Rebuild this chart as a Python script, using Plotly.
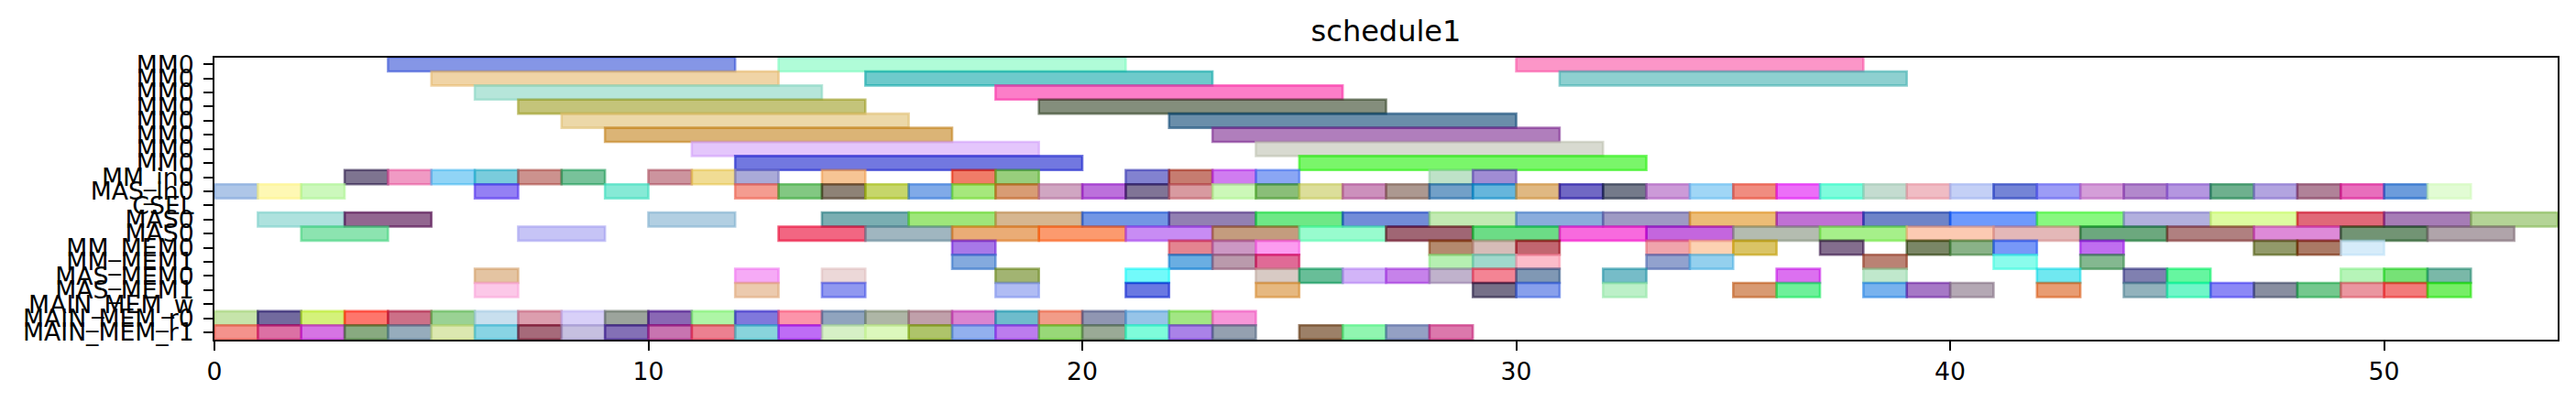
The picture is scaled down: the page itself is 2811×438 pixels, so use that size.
import plotly.graph_objects as go

# ---------------- data ----------------
ROW_LABELS = ["MM0", "MM0", "MM0", "MM0", "MM0", "MM0", "MM0", "MM0",
              "MM_in0", "MAS_in0", "CSEL", "MAS0", "MAS0", "MM_MEM0", "MM_MEM1",
              "MAS_MEM0", "MAS_MEM1", "MAIN_MEM_w", "MAIN_MEM_r0", "MAIN_MEM_r1"]

X_TICKS = [0, 10, 20, 30, 40, 50]

MM0_1_START = [4, 13, 30]
MM0_1_END = [12, 21, 38]
MM0_2_START = [5, 15, 31]
MM0_2_END = [13, 23, 39]
MM0_3_START = [6, 18]
MM0_3_END = [14, 26]
MM0_4_START = [7, 19]
MM0_4_END = [15, 27]
MM0_5_START = [8, 22]
MM0_5_END = [16, 30]
MM0_6_START = [9, 23]
MM0_6_END = [17, 31]
MM0_7_START = [11, 24]
MM0_7_END = [19, 32]
MM0_8_START = [12, 25]
MM0_8_END = [20, 33]

MM_IN0_START = [3, 4, 5, 6, 7, 8, 10, 11, 12, 14, 17, 18, 21, 22, 23, 24, 28, 29]
MM_IN0_END = [4, 5, 6, 7, 8, 9, 11, 12, 13, 15, 18, 19, 22, 23, 24, 25, 29, 30]

MAS_IN0_START = [0, 1, 2, 6, 9, 12, 13, 14, 15, 16, 17, 18, 19, 20, 21, 22, 23, 24, 25,
                 26, 27, 28, 29, 30, 31, 32, 33, 34, 35, 36, 37, 38, 39, 40, 41, 42, 43,
                 44, 45, 46, 47, 48, 49, 50, 51]
MAS_IN0_END = [1, 2, 3, 7, 10, 13, 14, 15, 16, 17, 18, 19, 20, 21, 22, 23, 24, 25, 26,
               27, 28, 29, 30, 31, 32, 33, 34, 35, 36, 37, 38, 39, 40, 41, 42, 43, 44,
               45, 46, 47, 48, 49, 50, 51, 52]

CSEL_START = []
CSEL_END = []

MAS0_1_START = [1, 3, 10, 14, 16, 18, 20, 22, 24, 26, 28, 30, 32, 34, 36, 38, 40, 42,
                44, 46, 48, 50, 52]
MAS0_1_END = [3, 5, 12, 16, 18, 20, 22, 24, 26, 28, 30, 32, 34, 36, 38, 40, 42, 44,
              46, 48, 50, 52, 54]

MAS0_2_START = [2, 7, 13, 15, 17, 19, 21, 23, 25, 27, 29, 31, 33, 35, 37, 39, 41, 43,
                45, 47, 49, 51]
MAS0_2_END = [4, 9, 15, 17, 19, 21, 23, 25, 27, 29, 31, 33, 35, 37, 39, 41, 43, 45,
              47, 49, 51, 53]

MM_MEM0_START = [17, 22, 23, 24, 28, 29, 30, 33, 34, 35, 37, 39, 40, 41, 43, 47, 48, 49]
MM_MEM0_END = [18, 23, 24, 25, 29, 30, 31, 34, 35, 36, 38, 40, 41, 42, 44, 48, 49, 50]

MM_MEM1_START = [17, 22, 23, 24, 28, 29, 30, 33, 34, 38, 41, 43]
MM_MEM1_END = [18, 23, 24, 25, 29, 30, 31, 34, 35, 39, 42, 44]

MAS_MEM0_START = [6, 12, 14, 18, 21, 24, 25, 26, 27, 28, 29, 30, 32, 36, 38, 42, 44, 45,
                  49, 50, 51]
MAS_MEM0_END = [7, 13, 15, 19, 22, 25, 26, 27, 28, 29, 30, 31, 33, 37, 39, 43, 45, 46,
                50, 51, 52]

MAS_MEM1_START = [6, 12, 14, 18, 21, 24, 29, 30, 32, 35, 36, 38, 39, 40, 42, 44, 45, 46,
                  47, 48, 49, 50, 51]
MAS_MEM1_END = [7, 13, 15, 19, 22, 25, 30, 31, 33, 36, 37, 39, 40, 41, 43, 45, 46, 47,
                48, 49, 50, 51, 52]

MAIN_MEM_W_START = []
MAIN_MEM_W_END = []

MAIN_MEM_R0_START = [0, 1, 2, 3, 4, 5, 6, 7, 8, 9, 10, 11, 12, 13, 14, 15, 16, 17, 18,
                     19, 20, 21, 22, 23]
MAIN_MEM_R0_END = [1, 2, 3, 4, 5, 6, 7, 8, 9, 10, 11, 12, 13, 14, 15, 16, 17, 18, 19,
                   20, 21, 22, 23, 24]

MAIN_MEM_R1_START = [0, 1, 2, 3, 4, 5, 6, 7, 8, 9, 10, 11, 12, 13, 14, 15, 16, 17, 18,
                     19, 20, 21, 22, 23, 25, 26, 27, 28]
MAIN_MEM_R1_END = [1, 2, 3, 4, 5, 6, 7, 8, 9, 10, 11, 12, 13, 14, 15, 16, 17, 18, 19,
                   20, 21, 22, 23, 24, 26, 27, 28, 29]

# ---------------- styles (apparent colours on white) ----------------
MM0_1_COL = ["#8596e6", "#b0fcd8", "#fc96c8"]
MM0_2_COL = ["#f0d4a6", "#6ecacb", "#8ed0d0"]
MM0_3_COL = ["#b6e6da", "#fc7ec8"]
MM0_4_COL = ["#c4c47a", "#848e7c"]
MM0_5_COL = ["#ecd8a8", "#6a8eaa"]
MM0_6_COL = ["#dbb476", "#b07ebc"]
MM0_7_COL = ["#e4c6fc", "#d8dad0"]
MM0_8_COL = ["#7278e0", "#7af66a"]
MM_IN0_COL = ["#7e7490", "#f09ac4", "#90d4f6", "#7accdc", "#cc928e", "#78c29a",
              "#cc949e", "#f0dc94", "#aaaad8", "#f6c494", "#f07c68", "#98ce7c",
              "#8282d0", "#c67c70", "#d07cf0", "#8aa6f4", "#bee2c8", "#a08cd4"]
MAS_IN0_COL = ["#aec6e8", "#fef8b4", "#ccf8bc", "#9480f4", "#86ead6",
               "#f49c90", "#82c882", "#8e8276", "#c6d66a", "#80aae8", "#a6e87c",
               "#d89c74", "#d0a6c2", "#bc70dc", "#807496", "#d89aa0", "#ccf8b8",
               "#8abe78", "#dcde9a", "#cc90bc", "#ac9890", "#72a0c8", "#66b6dc",
               "#e0b882", "#7068c4", "#747a8a", "#cc9ad8", "#a0d6f6", "#f08c80",
               "#ec6ef8", "#7efcdc", "#c4dcd0", "#f0bcc4", "#c4d0f6", "#7484d6",
               "#9c9cf6", "#d49ed8", "#b288cc", "#b496e0", "#6eb08e", "#b2a4e0",
               "#b08298", "#e86ebc", "#6c9cdc", "#e2fcd4"]
CSEL_COL = []
MAS0_1_COL = ["#aee2de", "#926690", "#b2cfe2", "#7aaeb2", "#9ee67a", "#d6b690",
              "#7296e4", "#9280b2", "#6ee886", "#728cd8", "#c2eab2", "#8aacdc",
              "#9e9ac4", "#ecbc76", "#c070d4", "#6e84c8", "#6e9afc", "#88f880",
              "#b2b0de", "#ddfca0", "#e06878", "#a67cb6", "#b4d496"]
MAS0_2_COL = ["#8ce4b0", "#c6c4f6", "#f26682", "#a0b6c0", "#eaac76", "#fc9a6e",
              "#c88cf4", "#c49c7e", "#98fcce", "#a06474", "#6cdc86", "#f86ade",
              "#c466de", "#b4bcb0", "#a6f08a", "#fccab2", "#e4b8b8", "#6ca87e",
              "#b08080", "#de8ad8", "#729474", "#b0a4aa"]
MM_MEM0_COL = ["#a878e8", "#e48490", "#cc98c4", "#fc9cf0", "#b48a6e", "#d6bcb8",
               "#c26470", "#f0a4ac", "#fcd2b2", "#dac466", "#846e8e", "#7a8666",
               "#8ab288", "#7898f8", "#c06ef0", "#929a6a", "#aa7a64", "#d6ecfa"]
MM_MEM1_COL = ["#84aade", "#6aaee2", "#ba9aac", "#e06a96", "#b6f0b2", "#a0d8cc",
               "#fcbcca", "#92a2ce", "#94d0ee", "#ba8274", "#8afcec", "#84b890"]
MAS_MEM0_COL = ["#e4c4a2", "#f6aaf6", "#ecd8d8", "#a2b472", "#72fafa", "#d8cac4",
                "#68be98", "#d2b4f8", "#c682ea", "#c0b2cc", "#f48494", "#8098b4",
                "#76bcc8", "#dc70f0", "#c0e8cc", "#70e8f0", "#8080b0", "#66f6a0",
                "#b6f4b8", "#76e276", "#7ab8a8"]
MAS_MEM1_COL = ["#fcc8e8", "#eccaae", "#9098f0", "#b0bcf4", "#6a78e2", "#e6b880",
                "#767088", "#88a0ec", "#bcf0c8", "#d89a72", "#6ef09a", "#78b2ee",
                "#a678c6", "#b4a8b4", "#e89c72", "#92b2bc", "#70f6c8", "#8c88f6",
                "#888ea0", "#74c88e", "#ea96a0", "#f27a7a", "#76ee66"]
MAIN_MEM_W_COL = []
MAIN_MEM_R0_COL = ["#c6e4aa", "#726a9e", "#d4f27a", "#fe766c", "#cc7088", "#9ad294",
                   "#c8dfee", "#dc9eae", "#d8d0f8", "#9ca49c", "#8a68b4", "#aef6a6",
                   "#8078dc", "#fc94aa", "#90a4be", "#aeb6a6", "#c0a0aa", "#da84d0",
                   "#6ebccc", "#f29c88", "#9096b2", "#96c4e8", "#a2e684", "#f696d8"]
MAIN_MEM_R1_COL = ["#f4928c", "#dc70a4", "#d674e4", "#88aa80", "#96acbc", "#dce8b0",
                   "#88d4e4", "#a66a7a", "#c6c0e0", "#8470b6", "#c874b0", "#ec8090",
                   "#88d4dc", "#be6cf6", "#d6f0c6", "#dcf8bc", "#aec46a", "#92b0ee",
                   "#bc7cee", "#98d878", "#9aaa96", "#7efcda", "#aa82e8", "#94a0b0",
                   "#9c8068", "#90f6b0", "#94a0c4", "#dc78ac"]

ROWS = [
    (MM0_1_START, MM0_1_END, MM0_1_COL),
    (MM0_2_START, MM0_2_END, MM0_2_COL),
    (MM0_3_START, MM0_3_END, MM0_3_COL),
    (MM0_4_START, MM0_4_END, MM0_4_COL),
    (MM0_5_START, MM0_5_END, MM0_5_COL),
    (MM0_6_START, MM0_6_END, MM0_6_COL),
    (MM0_7_START, MM0_7_END, MM0_7_COL),
    (MM0_8_START, MM0_8_END, MM0_8_COL),
    (MM_IN0_START, MM_IN0_END, MM_IN0_COL),
    (MAS_IN0_START, MAS_IN0_END, MAS_IN0_COL),
    (CSEL_START, CSEL_END, CSEL_COL),
    (MAS0_1_START, MAS0_1_END, MAS0_1_COL),
    (MAS0_2_START, MAS0_2_END, MAS0_2_COL),
    (MM_MEM0_START, MM_MEM0_END, MM_MEM0_COL),
    (MM_MEM1_START, MM_MEM1_END, MM_MEM1_COL),
    (MAS_MEM0_START, MAS_MEM0_END, MAS_MEM0_COL),
    (MAS_MEM1_START, MAS_MEM1_END, MAS_MEM1_COL),
    (MAIN_MEM_W_START, MAIN_MEM_W_END, MAIN_MEM_W_COL),
    (MAIN_MEM_R0_START, MAIN_MEM_R0_END, MAIN_MEM_R0_COL),
    (MAIN_MEM_R1_START, MAIN_MEM_R1_END, MAIN_MEM_R1_COL),
]

ALPHA = 0.6


def base_rgba(hexcol, alpha=ALPHA):
    h = hexcol.lstrip("#")
    vals = [int(h[i:i + 2], 16) for i in (0, 2, 4)]
    base = [max(0, min(255, round((v - (1 - alpha) * 255) / alpha))) for v in vals]
    return "rgba(%d,%d,%d,%.2f)" % (base[0], base[1], base[2], alpha)


FONT = "DejaVu Sans"
fig = go.Figure()

for i, (starts, ends, cols) in enumerate(ROWS):
    if not starts:
        continue
    rg = [base_rgba(c) for c in cols]
    fig.add_trace(go.Bar(
        orientation="h",
        y=[i] * len(starts),
        base=starts,
        x=[e - s for s, e in zip(starts, ends)],
        width=1.0,
        marker=dict(color=rg, line=dict(color=rg, width=2.6)),
        showlegend=False,
        hoverinfo="skip",
    ))

fig.update_layout(
    width=2811, height=438,
    margin=dict(l=234, r=20, t=63, b=67, pad=0),
    paper_bgcolor="white", plot_bgcolor="white",
    barmode="overlay",
    font=dict(family=FONT, color="black", size=26.7),
    title=dict(text="schedule1", x=0.5, xref="paper", xanchor="center",
               y=1 - 34 / 438, yref="container", yanchor="middle",
               font=dict(family=FONT, size=32, color="black")),
)

fig.update_xaxes(
    range=[0, 54], tickvals=X_TICKS, ticktext=[str(t) for t in X_TICKS],
    ticks="outside", ticklen=10, tickwidth=2, tickcolor="black",
    showline=True, mirror=True, linecolor="black", linewidth=2,
    showgrid=False, zeroline=False,
    tickfont=dict(family=FONT, size=26.7, color="black"),
)
fig.update_yaxes(
    range=[19.52, -0.47], tickvals=list(range(len(ROW_LABELS))), ticktext=ROW_LABELS,
    ticks="outside", ticklen=10, tickwidth=2, tickcolor="black",
    showline=True, mirror=True, linecolor="black", linewidth=2,
    showgrid=False, zeroline=False, ticklabelstandoff=5,
    tickfont=dict(family=FONT, size=26.7, color="black"),
)

fig.write_html("out.html", config={"displayModeBar": False},
               post_script="document.body.style.margin='0';")
